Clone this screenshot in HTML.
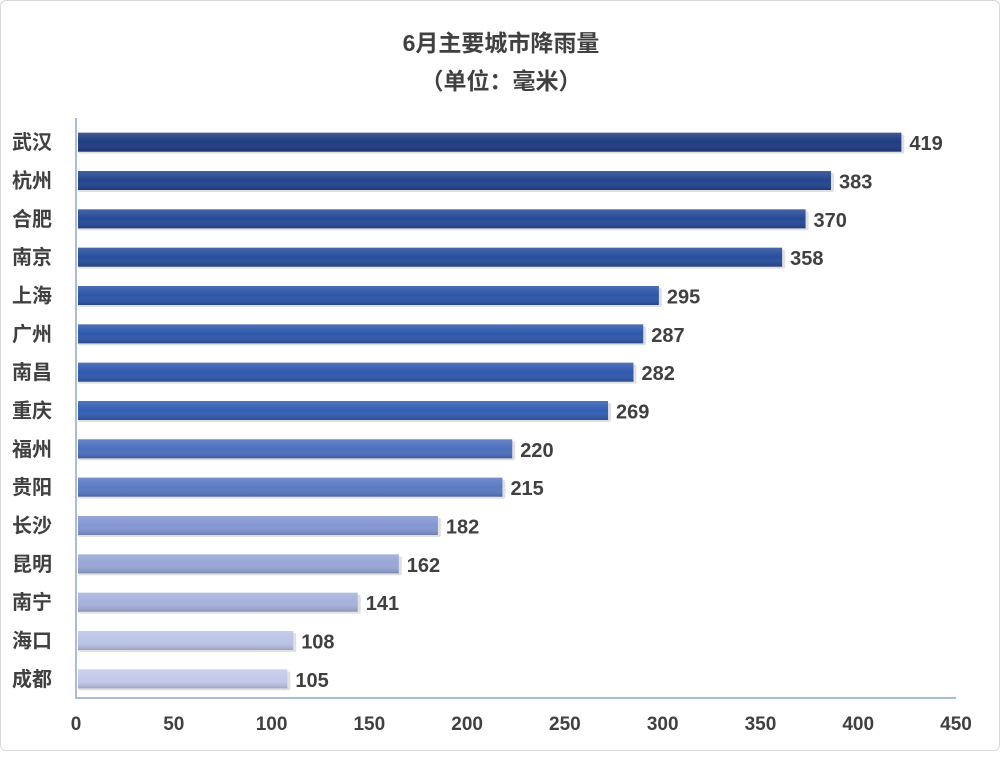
<!DOCTYPE html>
<html><head><meta charset="utf-8"><style>
body{margin:0;background:#fff;}
#wrap{position:absolute;left:0;top:0;width:998px;height:749px;border:1px solid #d8d8d8;border-radius:6px;background:#fff;}
text{font-family:"Liberation Sans","Noto Sans CJK SC",sans-serif;font-weight:bold;fill:#404040;}
</style></head><body>
<div id="wrap">
<svg id="chart" width="1000" height="751">
<defs>
<linearGradient id="shine" x1="0" y1="0" x2="0" y2="1">
<stop offset="0" stop-color="#fff" stop-opacity="0.15"/>
<stop offset="0.5" stop-color="#fff" stop-opacity="0"/>
<stop offset="1" stop-color="#000" stop-opacity="0.18"/>
</linearGradient>
</defs>
<text x="500" y="50" text-anchor="middle" font-size="23">6月主要城市降雨量</text>
<text x="500" y="88" text-anchor="middle" font-size="23">（单位：毫米）</text>
</svg>
</div>
<script>
const cities=["武汉","杭州","合肥","南京","上海","广州","南昌","重庆","福州","贵阳","长沙","昆明","南宁","海口","成都"];
const values=[419,383,370,358,295,287,282,269,220,215,182,162,141,108,105];
const ticks=[0,50,100,150,200,250,300,350,400,450];
const colors=["#1f3c82","#23448f","#264a98","#284d9c","#2c55a8","#2f58ac","#3059ae","#335eb3","#4c6fbf","#5b7ac4","#8496d2","#97a6d8","#a6b2dd","#bcc4e6","#c3cae9"];
const svg=document.getElementById('chart');
const NS='http://www.w3.org/2000/svg';
const x0=75,x1=955,yTop=122,yBot=697;
const xs=v=>x0+(v-ticks[0])/(ticks[ticks.length-1]-ticks[0])*(x1-x0);
const band=(yBot-yTop)/cities.length;
const ys=i=>yTop+band*i+band/2;
function mk(t,a){const e=document.createElementNS(NS,t);for(const k in a)e.setAttribute(k,a[k]);svg.appendChild(e);return e;}
const ax=mk('path',{d:`M${x0} ${yTop-5}V${yBot}H${x1}`,fill:'none',stroke:'#8fa6c8','stroke-width':1.5});


ticks.forEach(t=>{const e=mk('text',{x:xs(t),y:729,'text-anchor':'middle','font-size':19});e.textContent=t;

});
cities.forEach((c,i)=>{
const y=ys(i),h=19;
const w=xs(values[i])-x0+4;
const sh=mk('rect',{x:x0+2,y:y-h/2+2,width:w+3,height:h,fill:'#000',opacity:0.12,rx:2});


const b=mk('rect',{x:x0+2,y:y-h/2,width:w,height:h,fill:colors[i]});


const g=mk('rect',{x:x0+2,y:y-h/2,width:w,height:h,fill:'url(#shine)'});


const l=mk('text',{x:11,y:y+7,'font-size':20});l.textContent=c;


const v=mk('text',{x:xs(values[i])+14,y:y+8,'font-size':20});v.textContent=values[i];


});
</script>
</body></html>
